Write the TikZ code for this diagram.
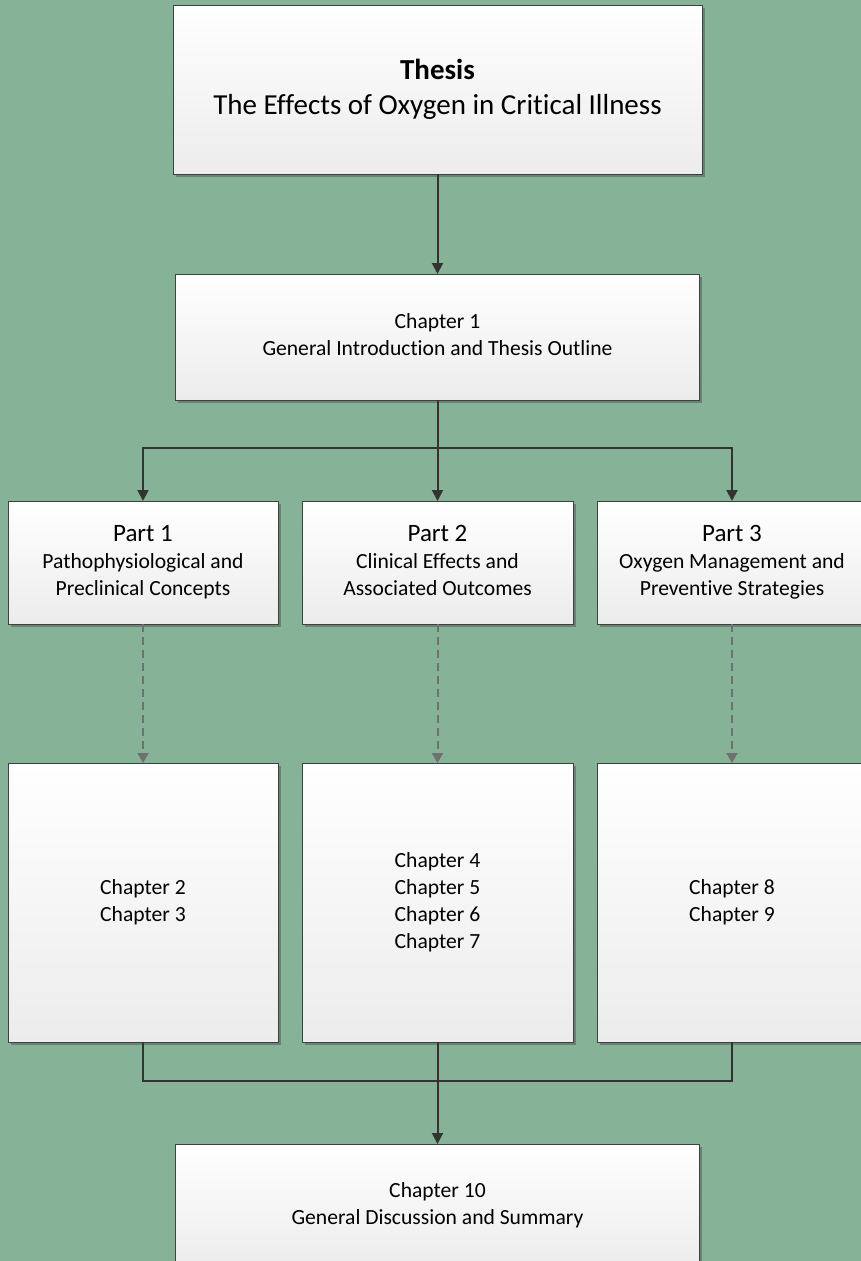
\documentclass[tikz,border=0pt]{standalone}
\usepackage{fontspec}
\setmainfont[Ligatures=NoCommon]{Carlito}
\usetikzlibrary{arrows.meta,shadows}
\definecolor{bg}{RGB}{134,179,152}
\definecolor{boxline}{RGB}{64,64,64}
\definecolor{conn}{RGB}{51,51,51}
\definecolor{dashc}{RGB}{112,112,112}
\definecolor{boxbot}{RGB}{236,236,236}
\begin{document}
\begin{tikzpicture}[x=1pt,y=-1pt,
  box/.style={draw=boxline, line width=1pt, top color=white, bottom color=boxbot,
    outer sep=0pt, inner sep=0pt, align=center,
    drop shadow={shadow xshift=2.5pt, shadow yshift=-2.5pt, fill=black, opacity=0.25}},
  chtext/.style={font=\fontsize{21.6}{27}\selectfont},
  solidarrow/.style={draw=conn, line width=2pt, -{Triangle[length=11pt,width=11pt]}},
  solidline/.style={draw=conn, line width=2pt},
  dasharrow/.style={draw=dashc, line width=2pt, dash pattern=on 8pt off 5pt,
    -{Triangle[length=10pt,width=11pt]}}]
\useasboundingbox (0,0) rectangle (861,1261);
\clip (0,0) rectangle (861,1261);
\fill[bg] (0,0) rectangle (861,1261);

\node[box, minimum width=529pt, minimum height=169pt, font=\fontsize{29}{35}\selectfont]
  (thesis) at (437.5,89.5) {\strut\textbf{Thesis}\\The Effects of Oxygen in Critical Illness\strut};
\node[box, chtext, minimum width=524pt, minimum height=126pt]
  (ch1) at (437.5,337) {\strut Chapter 1\\General Introduction and Thesis Outline\strut};

\node[box, chtext, minimum width=270pt, minimum height=123pt]
  (p1) at (143,562.5) {{\fontsize{25}{30}\selectfont\strut Part 1}\\Pathophysiological and\\Preclinical Concepts\strut};
\node[box, chtext, minimum width=271pt, minimum height=123pt]
  (p2) at (437.5,562.5) {{\fontsize{25}{30}\selectfont\strut Part 2}\\Clinical Effects and\\Associated Outcomes\strut};
\node[box, chtext, minimum width=270pt, minimum height=123pt]
  (p3) at (732,562.5) {{\fontsize{25}{30}\selectfont\strut Part 3}\\Oxygen Management and\\Preventive Strategies\strut};

\node[box, chtext, minimum width=270pt, minimum height=279pt]
  (c1) at (143,902.5) {\strut Chapter 2\\Chapter 3\strut};
\node[box, chtext, minimum width=271pt, minimum height=279pt]
  (c2) at (437.5,902.5) {\strut Chapter 4\\Chapter 5\\Chapter 6\\Chapter 7\strut};
\node[box, chtext, minimum width=270pt, minimum height=279pt]
  (c3) at (732,902.5) {\strut Chapter 8\\Chapter 9\strut};

\node[box, chtext, minimum width=524pt, minimum height=124pt]
  (ch10) at (437.5,1206) {\strut Chapter 10\\General Discussion and Summary\strut};

\draw[solidarrow] (thesis.south) -- (ch1.north);
\coordinate (split) at (437.5,448);
\draw[solidline] (ch1.south) -- (split);
\draw[solidarrow] (split) -| (p1.north);
\draw[solidarrow] (split) -- (p2.north);
\draw[solidarrow] (split) -| (p3.north);

\draw[dasharrow] (p1.south) -- (c1.north);
\draw[dasharrow] (p2.south) -- (c2.north);
\draw[dasharrow] (p3.south) -- (c3.north);

\coordinate (join) at (437.5,1081);
\draw[solidline] (c1.south) |- (join);
\draw[solidline] (c3.south) |- (join);
\draw[solidarrow] (c2.south) -- (ch10.north);
\end{tikzpicture}
\end{document}
